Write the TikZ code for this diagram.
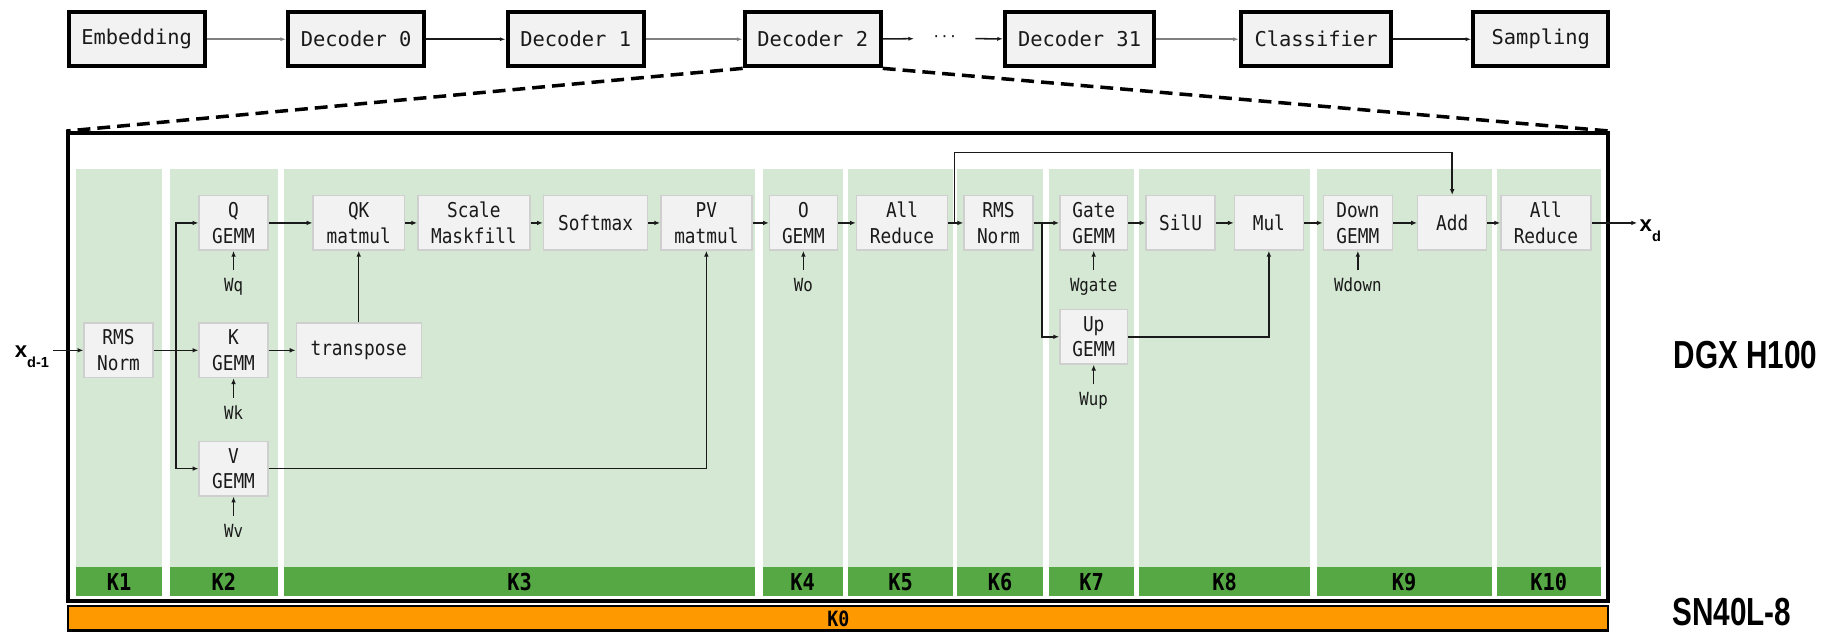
\documentclass[tikz,border=0pt]{standalone}
\usepackage{fontspec}
\setmonofont{DejaVu Sans Mono}[FakeStretch=0.87]
\newfontfamily\topfont{DejaVu Sans Mono}
\newfontfamily\bigfont{Liberation Sans}[FakeStretch=0.76]
\newfontfamily\xfont{Liberation Sans}
\usetikzlibrary{arrows.meta,calc}
\definecolor{colbg}{HTML}{D5E8D4}
\definecolor{kbar}{HTML}{55A844}
\definecolor{orng}{HTML}{FF9900}
\definecolor{boxfill}{HTML}{F2F2F2}
\definecolor{boxline}{HTML}{CFCFCF}
\definecolor{ink}{HTML}{1A1A1A}
\tikzset{
  ib/.style={draw=boxline, line width=1.2pt, fill=boxfill, minimum height=46.6pt,
    inner sep=1pt, align=center, text=ink,
    font=\ttfamily\fontsize{17.5}{22}\selectfont},
  wl/.style={anchor=base, inner sep=1.5pt, text height=11pt, text depth=3pt, text=ink,
    font=\ttfamily\fontsize{15.5}{18}\selectfont},
  ar/.style={draw=ink, line width=1.3pt, -{Latex[length=5pt,width=4pt]}},
  war/.style={ar, shorten <=5.5pt},
  tb/.style={draw=black, line width=3.5pt, fill=boxfill, minimum height=46.4pt,
    inner sep=1pt, text=ink, font=\topfont\fontsize{17.5}{21}\selectfont},
  tar/.style={draw=ink, line width=1.3pt, -{Latex[length=5pt,width=3.5pt]}},
  targ/.style={tar, draw=gray},
  klab/.style={inner sep=0pt, text=black, font=\ttfamily\bfseries\fontsize{20}{20}\selectfont},
  k0lab/.style={inner sep=0pt, text=black, font=\ttfamily\bfseries\fontsize{18}{18}\selectfont},
  biglab/.style={anchor=base west, inner sep=0pt, text=black,
    font=\bigfont\bfseries\fontsize{33.5}{34}\selectfont},
  xl/.style={anchor=base west, inner sep=0pt, text=black,
    font=\xfont\bfseries\fontsize{19}{19}\selectfont},
  dashln/.style={draw=black, line width=3pt, dash pattern=on 11pt off 6pt}
}
\newcommand{\xsubtxt}[1]{\raisebox{-8.5pt}{\fontsize{12.5}{12.5}\selectfont #1}}
\begin{document}
\begin{tikzpicture}[x=1pt,y=-1pt]
\useasboundingbox (0,0) rectangle (1568,541);

% ---- top row ----
\node[tb, minimum width=116.5pt] (emb) at (117,33.6) {Embedding};
\node[tb, minimum width=116.5pt] (d0) at (305,33.6) {Decoder 0};
\node[tb, minimum width=116.5pt] (d1) at (493,33.6) {Decoder 1};
\node[tb, minimum width=116.5pt] (d2) at (696,33.6) {Decoder 2};
\node[inner sep=0pt, minimum width=52pt, text=ink, font=\topfont\fontsize{12}{12}\selectfont] (dots) at (809,33) {···};
\node[tb, minimum width=127.5pt] (d31) at (924.5,33.6) {Decoder 31};
\node[tb, minimum width=128.5pt] (cls) at (1127,33.6) {Classifier};
\node[tb, minimum width=115.5pt] (smp) at (1319.5,33.6) {Sampling};
\draw[targ] (emb) -- (d0);
\draw[tar] (d0) -- (d1);
\draw[targ] (d1) -- (d2);
\draw[tar] (d2) -- (dots);
\draw[tar] (dots) -- (d31);
\draw[targ] (d31) -- (cls);
\draw[tar] (cls) -- (smp);

% ---- kernel columns ----
\foreach \l/\r/\k in {65.5/138.5/K1, 145.6/238/K2, 243.2/646.6/K3, 653/721.7/K4,
  726.5/815.9/K5, 819.8/893/K6, 898.3/971.4/K7, 975.7/1121.9/K8,
  1127.6/1277.4/K9, 1281.7/1371/K10}{
  \fill[colbg] (\l,144.7) rectangle (\r,485.8);
  \fill[kbar] (\l,485.8) rectangle (\r,510.4);
  \node[klab] (lab-\k) at ({(\l+\r)/2},498.3) {\k};
}

% ---- outer box and K0 bar ----
\node[draw=black, line width=3.5pt, minimum width=1318.5pt, minimum height=400.5pt, inner sep=0pt] (outer) at (717.75,314.25) {};
\node[draw=black, line width=2pt, fill=orng, minimum width=1318.5pt, minimum height=21pt, inner sep=0pt] (k0bar) at (717.75,529.5) {};
\node[k0lab] (k0lab) at (718,530) {K0};
\draw[dashln] (d2.south west) -- (outer.north west);
\draw[dashln] (d2.south east) -- (outer.north east);

% ---- operator boxes ----
\node[ib, minimum width=59pt] (rmsA) at (101.5,300) {RMS\\Norm};
\node[ib, minimum width=59pt] (qg) at (200,190.9) {Q\\GEMM};
\node[ib, minimum width=59pt] (kg) at (200,300) {K\\GEMM};
\node[ib, minimum width=59pt] (vg) at (200,401.3) {V\\GEMM};
\node[ib, minimum width=78pt] (qk) at (307.2,190.9) {QK\\matmul};
\node[ib, minimum width=107pt] (tr) at (307.2,300) {transpose};
\node[ib, minimum width=96pt] (scm) at (405.8,190.9) {Scale\\Maskfill};
\node[ib, minimum width=89pt] (soft) at (510,190.9) {Softmax};
\node[ib, minimum width=78pt] (pv) at (604.9,190.9) {PV\\matmul};
\node[ib, minimum width=58pt] (og) at (688,190.9) {O\\GEMM};
\node[ib, minimum width=78pt] (arA) at (772.5,190.9) {All\\Reduce};
\node[ib, minimum width=59pt] (rmsB) at (855,190.9) {RMS\\Norm};
\node[ib, minimum width=58pt] (gate) at (936.6,190.9) {Gate\\GEMM};
\node[ib, minimum width=58pt] (up) at (936.6,288.4) {Up\\GEMM};
\node[ib, minimum width=59pt] (silu) at (1011,190.9) {SilU};
\node[ib, minimum width=59pt] (mul) at (1086.6,190.9) {Mul};
\node[ib, minimum width=59pt] (down) at (1162.8,190.9) {Down\\GEMM};
\node[ib, minimum width=59pt] (add) at (1243.6,190.9) {Add};
\node[ib, minimum width=77pt] (arB) at (1323.8,190.9) {All\\Reduce};

% ---- weight labels ----
\node[wl] (wq) at ($(qg.south)+(0,35)$) {Wq};
\node[wl] (wk) at ($(kg.south)+(0,35)$) {Wk};
\node[wl] (wv) at ($(vg.south)+(0,35)$) {Wv};
\node[wl] (wo) at ($(og.south)+(0,35)$) {Wo};
\node[wl] (wgate) at ($(gate.south)+(0,35)$) {Wgate};
\node[wl] (wup) at ($(up.south)+(0,35)$) {Wup};
\node[wl] (wdown) at ($(down.south)+(0,35)$) {Wdown};
\draw[war] (wq.north) -- (qg.south);
\draw[war] (wk.north) -- (kg.south);
\draw[war] (wv.north) -- (vg.south);
\draw[war] (wo.north) -- (og.south);
\draw[war] (wgate.north) -- (gate.south);
\draw[war] (wup.north) -- (up.south);
\draw[war] (wdown.north) -- (down.south);

% ---- input / output labels ----
\node[xl] (xin) at (12.5,306.5) {x\xsubtxt{d-1}};
\node[xl] (xout) at (1404,198.4) {x\xsubtxt{d}};
\coordinate (xinend) at (45.7,300);
\coordinate (xoutend) at (1402,190.9);
\draw[ar] (xinend) -- (rmsA.west);
\draw[ar] (arB.east) -- (xoutend);

% ---- connectors ----
\coordinate (b1) at (150.7,300);
\draw[ar] (rmsA) -- (kg);
\draw[ar] (b1) |- (qg.west);
\draw[ar] (b1) |- (vg.west);
\draw[ar] (qg) -- (qk);
\draw[ar] (kg) -- (tr);
\draw[ar] (tr.north) -- (qk.south);
\draw[ar] (qk) -- (scm);
\draw[ar] (scm) -- (soft);
\draw[ar] (soft) -- (pv);
\draw[ar] (vg.east) -| (pv.south);
\draw[ar] (pv) -- (og);
\draw[ar] (og) -- (arA);
\draw[ar] (arA) -- (rmsB);
\coordinate (sk) at (817.3,190.9);
\coordinate (skt) at (817.3,130.5);
\draw[ar] (sk) -- (skt) -| (add.north);
\coordinate (b2) at (892.1,190.9);
\draw[ar] (rmsB) -- (gate);
\draw[ar] (b2) |- (up.west);
\draw[ar] (gate) -- (silu);
\draw[ar] (silu) -- (mul);
\draw[ar] (up.east) -| (mul.south);
\draw[ar] (mul) -- (down);
\draw[ar] (down) -- (add);
\draw[ar] (add) -- (arB);

% ---- platform labels ----
\node[biglab] (dgx) at (1433,315.4) {DGX H100};
\node[biglab] (sn) at (1432,535.3) {SN40L-8};
\end{tikzpicture}
\end{document}
